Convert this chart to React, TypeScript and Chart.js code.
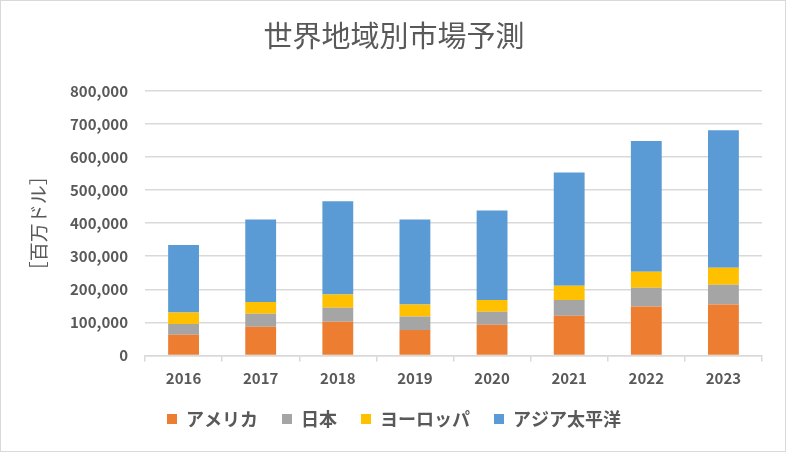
import React, { useEffect, useRef } from "react";
import { Chart, registerables } from "chart.js";

Chart.register(...registerables);

const years = ["2016", "2017", "2018", "2019", "2020", "2021", "2022", "2023"];
const america = [63000, 87000, 102000, 77000, 93000, 120000, 148000, 154000];
const japan = [32000, 39000, 42000, 41000, 39000, 48000, 57000, 60000];
const europe = [35000, 36000, 40000, 36000, 36000, 43000, 48000, 51000];
const asiaPacific = [204000, 249000, 282000, 257000, 270000, 342000, 395000, 416000];

const seriesNames = ["アメリカ", "日本", "ヨーロッパ", "アジア太平洋"];
const seriesColors = ["#ED7D31", "#A5A5A5", "#FFC000", "#5B9BD5"];
const titleText = "世界地域別市場予測";
const yTitleText = "［百万ドル］";

const FONT = "'Noto Sans CJK JP', 'Noto Sans', sans-serif";
const TEXT = "#595959";
const GRID = "#D9D9D9";
const PAD_LEFT = 26;

const borderPlugin = {
  id: "outerBorder",
  afterDraw(chart: any) {
    const ctx = chart.ctx;
    ctx.save();
    ctx.strokeStyle = GRID;
    ctx.lineWidth = 1;
    ctx.strokeRect(0.5, 0.5, chart.width - 1, chart.height - 1);
    ctx.restore();
  },
};

export default function App() {
  const ref = useRef<HTMLCanvasElement>(null);
  useEffect(() => {
    if (!ref.current) return;
    const values = [america, japan, europe, asiaPacific];
    const chart = new Chart(ref.current, {
      type: "bar",
      data: {
        labels: years,
        datasets: values.map((v, i) => ({
          label: seriesNames[i],
          data: v,
          backgroundColor: seriesColors[i],
          borderWidth: 0,
          barPercentage: 0.4,
          categoryPercentage: 1,
        })),
      },
      options: {
        responsive: false,
        animation: false,
        layout: { padding: { left: PAD_LEFT, right: 24, top: 0, bottom: 14 } },
        plugins: {
          title: {
            display: true,
            text: titleText,
            color: TEXT,
            font: { family: FONT, size: 29, weight: "normal" },
            padding: { top: 19, bottom: 37 },
          },
          legend: {
            position: "bottom",
            labels: {
              color: TEXT,
              font: { family: FONT, size: 18, weight: "bold" },
              boxWidth: 10,
              boxHeight: 10,
              padding: 24,
            },
          },
          tooltip: { enabled: false },
        },
        scales: {
          x: {
            stacked: true,
            afterFit: (s: any) => {
              s.height = s.height - 9.5;
            },
            grid: {
              display: true,
              drawOnChartArea: false,
              drawTicks: true,
              tickLength: 6,
              color: GRID,
              lineWidth: 1.5,
              offset: true,
            },
            border: { display: true, color: GRID, width: 1.5 },
            ticks: {
              color: TEXT,
              font: { family: FONT, size: 15, weight: "bold" },
              padding: 8,
            },
          },
          y: {
            stacked: true,
            min: 0,
            max: 800000,
            afterFit: (s: any) => {
              s.width = 145 - PAD_LEFT;
            },
            grid: { color: GRID, lineWidth: 1.5, drawTicks: false },
            border: { display: false },
            ticks: {
              stepSize: 100000,
              color: TEXT,
              padding: 17,
              font: { family: FONT, size: 15, weight: "bold" },
              callback: (v: any) => Number(v).toLocaleString("en-US"),
            },
            title: {
              display: true,
              text: yTitleText,
              color: TEXT,
              font: { family: FONT, size: 19, weight: "normal" },
              padding: { top: 1.6, bottom: 0 },
            },
          },
        },
      },
      plugins: [borderPlugin],
    });
    return () => chart.destroy();
  }, []);
  return (
    <div style={{ position: "absolute", left: 0, top: 0, width: 786, height: 452, background: "#fff" }}>
      <canvas ref={ref} width={786} height={452} />
    </div>
  );
}
